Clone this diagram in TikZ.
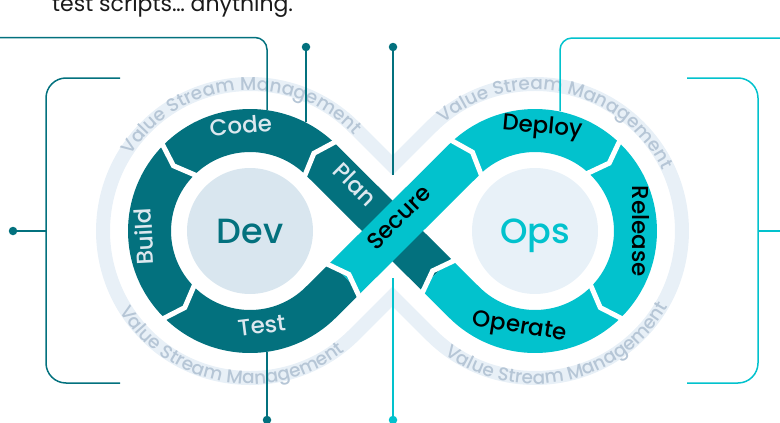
\documentclass[tikz,border=0pt]{standalone}
\usepackage{fontspec}
\setmainfont{Poppins}
\newfontfamily\medfont{Poppins Medium}
\usetikzlibrary{decorations.text}
\definecolor{devteal}{HTML}{03717E}
\definecolor{opscyan}{HTML}{02C2CD}
\definecolor{devfill}{HTML}{D9E6EF}
\definecolor{opsfill}{HTML}{E8F1F8}
\definecolor{vsmband}{HTML}{E8F0F7}
\definecolor{vsmtext}{HTML}{B6C6D6}
\definecolor{devlabel}{HTML}{DCE8EF}
\definecolor{inktext}{HTML}{1A1A1A}
\newcommand{\vsmfont}{\medfont\fontsize{18.5}{20}\selectfont\color{vsmtext}}

\begin{document}
\begin{tikzpicture}[x=1pt,y=1pt,
    band/.style={line width=43, line cap=butt, line join=round},
    vsm/.style={draw=vsmband, line width=14, line join=miter},
    sepline/.style={draw=white, line width=5, line join=miter},
    devlink/.style={draw=devteal, line width=1.5},
    opslink/.style={draw=opscyan, line width=1.5},
    dot/.style={circle, minimum size=8.5, inner sep=0},
    seglabel/.style={font=\medfont\fontsize{23}{27}\selectfont, anchor=mid, inner sep=0},
    devseg/.style={seglabel, text=devlabel},
    opsseg/.style={seglabel, text=black},
    hub/.style={circle, minimum size=126, inner sep=0, text depth=0pt, font=\medfont\fontsize{35}{40}\selectfont},
    chev/.pic={\draw[sepline] (-4.5,25) -- (4.5,0) -- (-4.5,-25);}]
\useasboundingbox (0,0) rectangle (780,-423);

% centres of the two loops and the crossing
\coordinate (devc) at (250,-231);
\coordinate (opsc) at (535,-231);
\coordinate (dT) at (320.89,-159.76);
\coordinate (oT) at (464.11,-159.76);
\coordinate (sB) at (345.70,-277.56);
\coordinate (P) at (435.75,-274.03);
\coordinate (vT) at (392.5,-165.41);
\coordinate (vB) at (392.5,-296.59);

% value stream band
\draw[vsm] (vT) -- (353.69,-126.80) arc[start angle=45.15, end angle=314.85, radius=147]
  -- (vB) -- (431.31,-335.20) arc[start angle=-134.85, end angle=134.85, radius=147] -- cycle;
\path[decorate, decoration={text along path, text align=center, text={|\vsmfont|Value Stream Management}}]
  (109.54,-218.71) arc[start angle=175, end angle=15, radius=141];
\path[decorate, decoration={text along path, text align=center, text={|\vsmfont|Value Stream Management}}]
  (97,-231) arc[start angle=180, end angle=340, radius=153];
\path[decorate, decoration={text along path, text align=center, text={|\vsmfont|Value Stream Management}}]
  (404.27,-178.18) arc[start angle=158, end angle=-2, radius=141];
\path[decorate, decoration={text along path, text align=center, text={|\vsmfont|Value Stream Management}}]
  (393.14,-288.31) arc[start angle=202, end angle=362, radius=153];

% the loop
\draw[band, devteal] (P) -- (dT) arc[start angle=45.15, end angle=314.85, radius=100.5] -- (sB);
\draw[band, opscyan] (sB) -- (oT)
  arc[start angle=134.85, end angle=-134.85, radius=100.5] -- (P);

% step boundaries
\pic[rotate=138] at (317.25,-156.31) {chev};
\pic[rotate=227] at (176.50,-162.46) {chev};
\pic[rotate=317] at (181.46,-304.50) {chev};
\pic[rotate=44.85] at (sB) {chev};
\pic[rotate=41] at (469.06,-155.15) {chev};
\pic[rotate=-45] at (606.06,-159.94) {chev};
\pic[rotate=-137] at (603.54,-304.50) {chev};
\pic[rotate=135.15] at (P) {chev};

\node[hub, fill=devfill, text=devteal] (dev) at (devc) {Dev};
\node[hub, fill=opsfill, text=opscyan] (ops) at (opsc) {Ops};

\node[devseg, rotate=5] (code) at (241.24,-130.88) {Code};
\node[devseg, rotate=93] (build) at (149.64,-236.26) {Build};
\node[devseg, rotate=7] (test) at (262.25,-330.75) {Test};
\node[devseg, rotate=-44.85] (plan) at (351.5,-188.0) {Plan};
\node[opsseg, rotate=44.85] (secure) at (402.4,-221.1) {Secure};
\node[opsseg, rotate=-5] (deploy) at (542.01,-130.74) {Deploy};
\node[opsseg, rotate=-90] (release) at (635.5,-231) {Release};
\node[opsseg, rotate=-9] (operate) at (519.28,-330.26) {Operate};

\node[anchor=base west, inner sep=0, text=inktext, font=\fontsize{22}{26}\selectfont] (intro) at (52,-12) {test scripts… anything.};

% call-out lines, left side
\coordinate (lnA) at (0,-37.5);
\coordinate (lnB) at (267,-110);
\draw[devlink, rounded corners=12] (lnA) -| (lnB);
\coordinate (brTop) at (120,-78);
\coordinate (brMid) at (46,-231);
\coordinate (brBot) at (120,-383);
\draw[devlink, rounded corners=20] (brTop) -| (brMid) |- (brBot);
\node[dot, fill=devteal] (dotL) at (13,-231) {};
\draw[devlink] (dotL) -- (brMid);
\node[dot, fill=devteal] (dotPlan) at (306,-47) {};
\coordinate (endPlan) at (306,-122);
\draw[devlink] (dotPlan) -- (endPlan);
\node[dot, fill=devteal] (dotSec) at (393,-47) {};
\coordinate (endSec) at (393,-175);
\draw[devlink] (dotSec) -- (endSec);
\node[dot, fill=devteal] (dotTest) at (267,-420) {};
\coordinate (endTest) at (267,-352);
\draw[devlink] (endTest) -- (dotTest);

% call-out lines, right side
\node[dot, fill=opscyan] (dotOps) at (393,-420) {};
\coordinate (endOps) at (393,-278);
\draw[opslink] (endOps) -- (dotOps);
\coordinate (rnA) at (780,-38);
\coordinate (rnB) at (560,-111);
\draw[opslink, rounded corners=12] (rnA) -| (rnB);
\coordinate (rbTop) at (687,-78);
\coordinate (rbMid) at (758,-231);
\coordinate (rbBot) at (687,-383);
\draw[opslink, rounded corners=20] (rbTop) -| (rbMid) |- (rbBot);
\coordinate (rEdge) at (780,-231);
\draw[opslink] (rbMid) -- (rEdge);
\end{tikzpicture}
\end{document}
